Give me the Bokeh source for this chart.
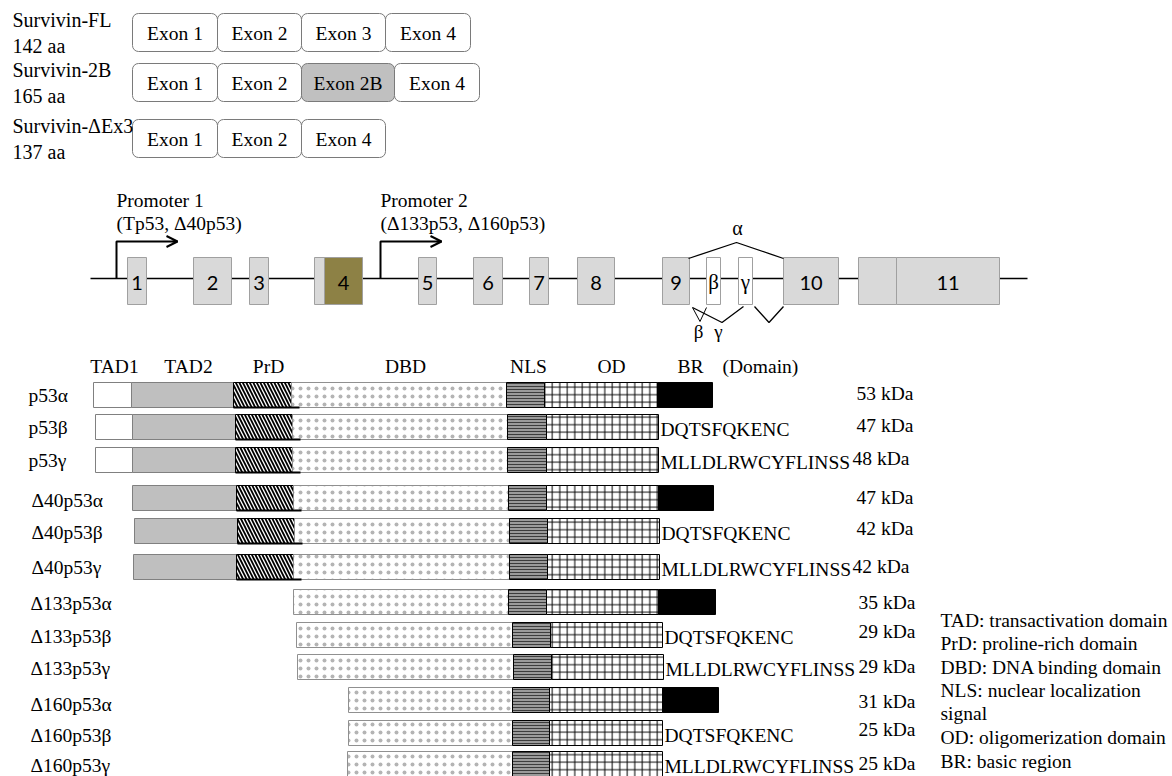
from bokeh.plotting import figure
from bokeh.models import Range1d, Arrow, OpenHead
from bokeh.core.properties import value
from bokeh.embed import file_html
from bokeh.resources import INLINE

SERIF = value("Liberation Serif")
SANS = value("Lato")

# ---------------- data ----------------
# Survivin splice variants
surv_names = ["Survivin-FL", "Survivin-2B", "Survivin-\u0394Ex3"]
surv_lengths = ["142 aa", "165 aa", "137 aa"]
surv_exons = [["Exon 1", "Exon 2", "Exon 3", "Exon 4"],
              ["Exon 1", "Exon 2", "Exon 2B", "Exon 4"],
              ["Exon 1", "Exon 2", "Exon 4"]]
surv_edges = [[132, 217, 301, 385, 470],
              [132, 217, 301, 394, 479],
              [132, 217, 301, 385]]

# TP53 gene structure
promoter_names = ["Promoter 1", "Promoter 2"]
promoter_products = ["(Tp53, \u039440p53)", "(\u0394133p53, \u0394160p53)"]
gene_labels = ["1", "2", "3", "", "4", "5", "6", "7", "8", "9", "\u03b2", "\u03b3", "10", "", "11"]
gene_start = [127, 193, 249, 314, 324, 418, 473, 529, 577, 662, 706, 738, 783, 858, 896]
gene_end = [146, 231, 268, 324, 362, 436, 502, 548, 614, 689, 720, 752, 838, 896, 999]
gene_kind = ["e", "e", "e", "e", "ex4", "e", "e", "e", "e", "e", "alt", "alt", "e", "e", "e"]

# p53 isoforms and their domains
domain_names = ["TAD1", "TAD2", "PrD", "DBD", "NLS", "OD", "BR"]
isoforms = ["p53\u03b1", "p53\u03b2", "p53\u03b3",
            "\u039440p53\u03b1", "\u039440p53\u03b2", "\u039440p53\u03b3",
            "\u0394133p53\u03b1", "\u0394133p53\u03b2", "\u0394133p53\u03b3",
            "\u0394160p53\u03b1", "\u0394160p53\u03b2", "\u0394160p53\u03b3"]
kda = [53, 47, 48, 47, 42, 42, 35, 29, 29, 31, 25, 25]
c_terminal = ["", "DQTSFQKENC", "MLLDLRWCYFLINSS"] * 4
# edges: TAD1 start | TAD2 | PrD | DBD | NLS | OD | BR | end
domain_edges = [
    [93, 131, 233, 291, 506, 544, 657, 712],
    [95, 132, 235, 292, 507, 546, 658, 658],
    [95, 132, 235, 292, 507, 546, 658, 658],
    [132, 132, 236, 293, 508, 546, 658, 713],
    [134, 134, 237, 294, 509, 547, 659, 659],
    [133, 133, 236, 293, 509, 547, 659, 659],
    [293, 293, 293, 293, 508, 546, 658, 715],
    [296, 296, 296, 296, 512, 550, 662, 662],
    [297, 297, 297, 297, 513, 551, 663, 663],
    [348, 348, 348, 348, 512, 549, 662, 718],
    [348, 348, 348, 348, 512, 549, 662, 662],
    [347, 347, 347, 347, 512, 549, 662, 662],
]
legend_lines = ["TAD: transactivation domain", "PrD: proline-rich domain",
                "DBD: DNA binding domain", "NLS: nuclear localization", "signal",
                "OD: oligomerization domain", "BR: basic region"]

# ---------------- layout ----------------
W, H = 1172, 776
p = figure(width=W, height=H, x_range=Range1d(0, W), y_range=Range1d(H, 0),
           output_backend="svg", toolbar_location=None, min_border=0,
           x_axis_location=None, y_axis_location=None)
p.grid.visible = False
p.outline_line_color = None
p.background_fill_color = "white"

FS = "19.5px"

def txt(x, y, t, font=SERIF, size=FS, align="left", color="black"):
    p.text(x=x, y=y, text=t, text_font=font, text_font_size=size,
           text_align=align, text_baseline="middle", text_color=color)

# ---- Survivin ----
surv_top = [13, 63, 119]
surv_h = 38
L, R, T, B, F, TX, TY, TT = [], [], [], [], [], [], [], []
for r, (edges, exons) in enumerate(zip(surv_edges, surv_exons)):
    for i, ex in enumerate(exons):
        L.append(edges[i]); R.append(edges[i + 1])
        T.append(surv_top[r]); B.append(surv_top[r] + surv_h)
        F.append("#c0c0c0" if ex == "Exon 2B" else "white")
        TX.append((edges[i] + edges[i + 1]) / 2); TY.append(surv_top[r] + surv_h / 2 + 1); TT.append(ex)
p.quad(left=L, right=R, top=T, bottom=B, fill_color=F, line_color="#7a7a7a",
       line_width=1, border_radius=6)
txt(TX, TY, TT, align="center")
txt([12] * 3, [t + 6 for t in surv_top], surv_names, size="20px")
txt([12] * 3, [t + 32 for t in surv_top], surv_lengths, size="20px")

# ---- gene ----
line_y = 278
p.line([90, 1027], [line_y, line_y], line_color="black", line_width=1.5)
fills = {"e": "#d9d9d9", "ex4": "#8d8145", "alt": "white"}
p.quad(left=gene_start, right=gene_end, top=[257] * len(gene_start), bottom=[304] * len(gene_start),
       fill_color=[fills[k] for k in gene_kind], line_color="#a0a0a0", line_width=1)
gx = [(a + b) / 2 for a, b in zip(gene_start, gene_end)]
num_idx = [i for i, k in enumerate(gene_kind) if k != "alt" and gene_labels[i]]
txt([gx[i] for i in num_idx], [282] * len(num_idx), [gene_labels[i] for i in num_idx],
    font=SANS, size="20px", align="center")
alt_idx = [i for i, k in enumerate(gene_kind) if k == "alt"]
txt([gx[i] for i in alt_idx], [281] * len(alt_idx), [gene_labels[i] for i in alt_idx],
    font=SERIF, size="21px", align="center")

# promoters
promoter_x = [116, 380]
arrow_len = 61
for px_, nm, pr in zip(promoter_x, promoter_names, promoter_products):
    p.line([px_, px_, px_ + arrow_len], [line_y, 241, 241], line_color="black", line_width=2)
    p.add_layout(Arrow(end=OpenHead(size=11, line_width=2, line_color="black"),
                       x_start=px_ + arrow_len - 5, y_start=241, x_end=px_ + arrow_len, y_end=241,
                       line_width=2, line_color="black"))
    txt([px_], [200], [nm])
    txt([px_], [223], [pr])

# splice connectors
e9e, bs, be, gs, ge, e10s = gene_end[9], gene_start[10], gene_end[10], gene_start[11], gene_end[11], gene_start[12]
top, bot = 258, 306
p.line([e9e - 1, (e9e + e10s) / 2, e10s], [top, 242, top], line_color="black", line_width=1.3)
txt([(e9e + e10s) / 2 + 1], [227], ["\u03b1"], size="20px", align="center")
p.line([e9e + 3, (e9e + ge) / 2 + 1, (gs + ge) / 2 - 2], [bot + 1, 322, bot], line_color="black", line_width=1.3)
p.line([e9e + 3, (e9e + bs) / 2 + 2, bs], [bot + 1, 321, bot + 1], line_color="black", line_width=1)
p.line([ge + 2, (ge + e10s) / 2 + 1, e10s], [bot, 322, bot], line_color="black", line_width=1.3)
txt([698, 718], [331, 331], ["\u03b2", "\u03b3"], size="19px", align="center")

# ---- domains ----
header_x = [114, 188, 268, 405, 528, 611, 690]
txt(header_x, [366] * 7, domain_names, align="center")
txt([722], [366], ["(Domain)"])

row_top = [382, 414, 447, 485, 518, 554, 589, 622, 654, 687, 720, 751]
row_h = 25
label_y = [395, 427, 460, 500, 532, 567, 603, 636, 668, 704, 735, 765]
label_x = [28, 28, 28, 31, 31, 31, 30, 30, 30, 30, 30, 30]
kda_x = [856, 856, 852, 856, 856, 852, 858, 858, 858, 858, 858, 858]
kda_y = [393, 425, 458, 497, 528, 566, 602, 631, 666, 701, 729, 763]

styles = [
    dict(fill_color="white", line_color="#808080"),
    dict(fill_color="#bfbfbf", line_color="#808080"),
    dict(fill_color="white", line_color="black", hatch_pattern="left_diagonal_line",
         hatch_color="black", hatch_scale=7, hatch_weight=1.8),
    dict(fill_color="white", line_color="#909090", hatch_pattern="dot",
         hatch_color="#b4b4b4", hatch_scale=8, hatch_weight=0.6),
    dict(fill_color="#9a9a9a", line_color="black", hatch_pattern="horizontal_line",
         hatch_color="#3c3c3c", hatch_scale=3, hatch_weight=1),
    dict(fill_color="white", line_color="black", hatch_pattern="cross",
         hatch_color="black", hatch_scale=7.5, hatch_weight=1),
    dict(fill_color="black", line_color="black"),
]
for d in range(7):
    l, r, t, b = [], [], [], []
    for k, e in enumerate(domain_edges):
        if e[d + 1] > e[d]:
            l.append(e[d]); r.append(e[d + 1]); t.append(row_top[k]); b.append(row_top[k] + row_h)
    p.quad(left=l, right=r, top=t, bottom=b, line_width=1, **styles[d])

# PrD underline
ux0, ux1, uy = [], [], []
for k, e in enumerate(domain_edges):
    if e[3] > e[2]:
        ux0.append(e[2]); ux1.append(e[3] + 8); uy.append(row_top[k] + row_h)
p.segment(x0=ux0, y0=uy, x1=ux1, y1=uy, line_color="black", line_width=2)

txt(label_x, label_y, isoforms)
txt(kda_x, kda_y, [f"{v} kDa" for v in kda])
seq_i = [k for k, s in enumerate(c_terminal) if s]
txt([domain_edges[k][7] + 2 for k in seq_i], [row_top[k] + row_h / 2 + 2 for k in seq_i],
    [c_terminal[k] for k in seq_i])

# legend
leg_y = [620, 643, 667, 690, 713, 737, 761]
txt([940] * len(legend_lines), leg_y, legend_lines)

open("out.html", "w").write(file_html(p, INLINE))
